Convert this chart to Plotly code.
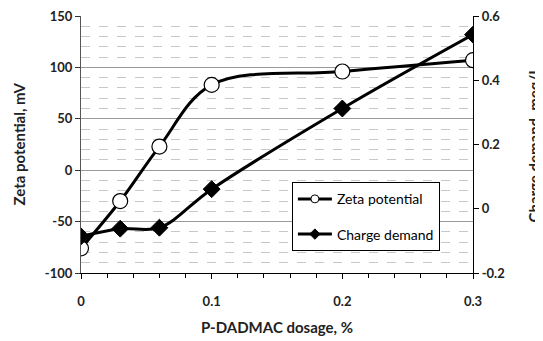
import plotly.graph_objects as go

dosage = [0, 0.03, 0.06, 0.1, 0.2, 0.3]
zeta_potential = [-76, -30, 23, 83, 96, 107]
charge_demand = [-0.086, -0.062, -0.059, 0.061, 0.312, 0.542]

x_ticks = [0, 0.1, 0.2, 0.3]
x_ticktext = ["0", "0.1", "0.2", "0.3"]
y_ticks = [-100, -50, 0, 50, 100, 150]
y_ticktext = ["-100", "-50", "0", "50", "100", "150"]
y2_ticks = [-0.2, 0, 0.2, 0.4, 0.6]
y2_ticktext = ["-0.2", "0", "0.2", "0.4", "0.6"]

FONT = "Lato"
TXT = "#222"

fig = go.Figure()
fig.add_trace(go.Scatter(
    x=dosage, y=zeta_potential, name="Zeta potential", mode="lines+markers",
    line=dict(color="black", width=3, shape="spline", smoothing=1),
    marker=dict(symbol="circle", size=15, color="white", line=dict(color="black", width=1.2)),
    showlegend=False, yaxis="y"))
fig.add_trace(go.Scatter(
    x=dosage, y=charge_demand, name="Charge demand", mode="lines+markers",
    line=dict(color="black", width=3, shape="spline", smoothing=1),
    marker=dict(symbol="diamond", size=13, color="black", line=dict(color="black", width=1)),
    showlegend=False, yaxis="y2"))
# legend entries with the small symbols the reference legend uses
fig.add_trace(go.Scatter(
    x=[None], y=[None], name="Zeta potential", mode="lines+markers",
    line=dict(color="black", width=3),
    marker=dict(symbol="circle", size=8, color="white", line=dict(color="black", width=1)),
    legendgroup="a", yaxis="y"))
fig.add_trace(go.Scatter(
    x=[None], y=[None], name="Charge demand", mode="lines+markers",
    line=dict(color="black", width=3),
    marker=dict(symbol="diamond", size=8, color="black", line=dict(color="black", width=1)),
    legendgroup="b", yaxis="y2"))

title_font = dict(family=FONT, size=15, color=TXT, weight="bold")
tick_font = dict(family=FONT, size=13, color=TXT, weight="bold")

fig.update_layout(
    width=535, height=333,
    margin=dict(l=73, r=70, t=8, b=68),
    paper_bgcolor="white", plot_bgcolor="white",
    font=dict(family=FONT, size=13, color=TXT),
    showlegend=True,
    legend=dict(x=0.538, y=0.353, xanchor="left", yanchor="top",
                bgcolor="white", bordercolor="black", borderwidth=1,
                font=dict(family=FONT, size=14, color="black"),
                itemwidth=34,
                tracegroupgap=14, traceorder="grouped"),
    xaxis=dict(range=[0, 0.3], tickvals=x_ticks, ticktext=x_ticktext,
               automargin=False,
               showline=True, linecolor="black", linewidth=1.2,
               ticks="outside", ticklen=5, tickcolor="black",
               minor=dict(dtick=0.02, ticks="outside", ticklen=4, tickcolor="black", showgrid=False),
               showgrid=False, zeroline=False,
               ticklabelstandoff=11,
               tickfont=tick_font),
    yaxis=dict(range=[-100, 150], tickvals=y_ticks, ticktext=y_ticktext,
               automargin=False, ticklabeloverflow="allow",
               showline=True, linecolor="#555", linewidth=1.2,
               ticks="outside", ticklen=5, tickcolor="#333",
               showgrid=True, gridcolor="#9a9a9a", gridwidth=1, zeroline=False,
               minor=dict(dtick=10, showgrid=True, gridcolor="#c8c8c8", griddash="dash", gridwidth=1, ticks=""),
               tickfont=tick_font),
    yaxis2=dict(range=[-0.2, 0.6], tickvals=y2_ticks, ticktext=y2_ticktext,
                automargin=False, ticklabeloverflow="allow",
                overlaying="y", side="right",
                showline=True, linecolor="black", linewidth=1.2,
                ticks="outside", ticklen=5, tickcolor="black",
                showgrid=False, zeroline=False,
                tickfont=tick_font),
    annotations=[
        dict(text="P-DADMAC dosage, %", xref="paper", yref="paper", x=0.5, y=0,
             xanchor="center", yanchor="middle", yshift=-54, showarrow=False, font=title_font),
        dict(text="Zeta potential, mV", xref="paper", yref="paper", x=0, y=0.5,
             xanchor="center", yanchor="middle", xshift=-63, textangle=-90, showarrow=False, font=title_font),
        dict(text="Charge demand, meq/L", xref="paper", yref="paper", x=1, y=0.5,
             xanchor="center", yanchor="middle", xshift=60, textangle=-90, showarrow=False, font=title_font),
    ],
)

fig.write_html("out.html")
